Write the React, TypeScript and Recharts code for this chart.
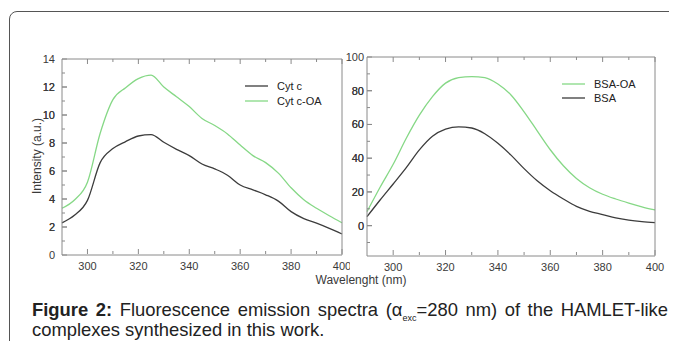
import React from 'react';
import { LineChart, Line, XAxis, YAxis, Legend } from 'recharts';

// wavelength grid (nm)
const wavelengths = [
  290, 295, 300, 305, 310, 315, 320, 325, 330, 335, 340, 345,
  350, 355, 360, 365, 370, 375, 380, 385, 390, 395, 400,
];

// left panel
const cytC = [
  2.3, 2.85, 3.9, 6.6, 7.6, 8.1, 8.5, 8.6, 8.05, 7.55, 7.1, 6.5,
  6.15, 5.7, 5.0, 4.65, 4.3, 3.85, 3.1, 2.6, 2.27, 1.9, 1.5,
];
const cytCOA = [
  3.34, 3.95, 5.2, 8.7, 11.1, 11.95, 12.6, 12.85, 12.0, 11.3, 10.6, 9.75,
  9.25, 8.65, 7.85, 7.1, 6.6, 5.85, 4.8, 3.95, 3.34, 2.8, 2.3,
];

// right panel
const bsaOA = [
  8.3, 22.8, 36.4, 51.8, 65.5, 76.5, 84.5, 87.8, 88.4, 87.8, 84.0, 77.5,
  67.5, 56.2, 45.0, 35.5, 28.0, 22.5, 18.6, 15.8, 13.4, 11.2, 9.3,
];
const bsa = [
  5.3, 15.2, 24.7, 34.4, 44.9, 53.0, 57.3, 58.6, 57.9, 54.5, 48.8, 41.8,
  33.8, 26.6, 20.7, 15.8, 11.4, 8.5, 6.6, 4.6, 3.3, 2.4, 1.8,
];

const xTicks = [300, 310, 320, 330, 340, 350, 360, 370, 380, 390, 400];
const xLabels = [300, 320, 340, 360, 380, 400];
const leftYTicks = [1, 2, 3, 4, 5, 6, 7, 8, 9, 10, 11, 12, 13];
const leftYLabels = [0, 2, 4, 6, 8, 10, 12, 14];
const rightYTicks = [-10, 0, 10, 20, 30, 40, 50, 60, 70, 80, 90];
const rightYLabels = [0, 20, 40, 60, 80, 100];

const leftData = wavelengths.map((w, i) => ({ w, cytC: cytC[i], cytCOA: cytCOA[i] }));
const rightData = wavelengths.map((w, i) => ({ w, bsaOA: bsaOA[i], bsa: bsa[i] }));

const AXIS = '#8a8a8a';
const TEXT = '#3a3a3a';
const DARK = '#3c3c3c';
const GREEN = '#86d886';
const FONT = '"Liberation Sans", Arial, sans-serif';

// inward tick marks; labels only on major values
const makeTick = (side: string, labels: number[], gap = 7) => (props: any) => {
  const { x, y, payload } = props;
  const v = payload.value;
  const major = labels.includes(v);
  const len = major ? 5 : 3;
  const textProps = { fontSize: 11, fill: TEXT, fontFamily: FONT };
  if (side === 'bottom') {
    const b = y - 1; // axis is 1px tall
    return (
      <g>
        <line x1={x} y1={b} x2={x} y2={b - len} stroke={AXIS} />
        {major && (
          <text x={x} y={b + 16} textAnchor="middle" {...textProps}>{v}</text>
        )}
      </g>
    );
  }
  if (side === 'top') {
    return <line x1={x} y1={y} x2={x} y2={y + len} stroke={AXIS} />;
  }
  if (side === 'left') {
    return (
      <g>
        <line x1={x} y1={y} x2={x + len} y2={y} stroke={AXIS} />
        {major && (
          <text x={x - gap} y={y + 4} textAnchor="end" {...textProps}>{v}</text>
        )}
      </g>
    );
  }
  return <line x1={x} y1={y} x2={x - len} y2={y} stroke={AXIS} />;
};

const LegendBox = ({ items, rowH }: any) => (
  <div style={{ fontFamily: FONT, fontSize: 11, color: '#222' }}>
    {items.map((p: any) => (
      <div key={p.key} style={{ display: 'flex', alignItems: 'center', height: rowH }}>
        <svg width={23} height={4} style={{ marginRight: 9 }}>
          <line x1={0} y1={2} x2={23} y2={2} stroke={p.color} strokeWidth={1.3} />
        </svg>
        <span>{p.name}</span>
      </div>
    ))}
  </div>
);

const Panel = ({ data, series, yDomain, yTicks, yLabels, margin, width, height, labelGap, legendPos, rowH }: any) => {
  const yAll = [...yTicks, ...yLabels].sort((a: number, b: number) => a - b);
  return (
    <LineChart width={width} height={height} data={data} margin={margin}>
      <XAxis
        dataKey="w"
        type="number"
        domain={[290, 400]}
        ticks={xTicks}
        interval={0}
        height={1}
        tickSize={0}
        tickMargin={0}
        stroke={AXIS}
        tick={makeTick('bottom', xLabels)}
        tickLine={false}
      />
      <XAxis
        xAxisId="top"
        orientation="top"
        dataKey="w"
        type="number"
        domain={[290, 400]}
        ticks={xTicks}
        interval={0}
        height={1}
        tickSize={0}
        tickMargin={0}
        stroke={AXIS}
        tick={makeTick('top', xLabels)}
        tickLine={false}
      />
      <YAxis
        type="number"
        domain={yDomain}
        ticks={yAll}
        interval={0}
        width={1}
        tickSize={0}
        tickMargin={0}
        stroke={AXIS}
        tick={makeTick('left', yLabels, labelGap)}
        tickLine={false}
      />
      <YAxis
        yAxisId="right"
        orientation="right"
        type="number"
        domain={yDomain}
        ticks={yAll}
        interval={0}
        width={1}
        tickSize={0}
        tickMargin={0}
        stroke={AXIS}
        tick={makeTick('right', yLabels)}
        tickLine={false}
      />
      <Legend
        layout="horizontal"
        verticalAlign="middle"
        content={() => <LegendBox items={series} rowH={rowH} />}
        wrapperStyle={{ position: 'absolute', left: legendPos[0], top: legendPos[1], width: 'auto' }}
      />
      {series.map((s: any) => (
        <Line
          key={s.key}
          dataKey={s.key}
          name={s.name}
          stroke={s.color}
          strokeWidth={1.3}
          type="monotone"
          dot={false}
          activeDot={false}
          isAnimationActive={false}
        />
      ))}
    </LineChart>
  );
};

export default function App() {
  return (
    <div style={{ position: 'relative', width: 677, height: 349, margin: -8, overflow: 'hidden', background: '#fff' }}>
      <div
        style={{
          position: 'absolute', left: 9, top: 11, width: 720, height: 400,
          border: '1px solid #555', borderRadius: 8, boxSizing: 'border-box',
        }}
      />
      <div style={{ position: 'absolute', left: 0, top: 0 }}>
        <Panel
          data={leftData}
          width={350}
          height={300}
          margin={{ top: 58, left: 61, right: 7, bottom: 44 }}
          yDomain={[0, 14]}
          yTicks={leftYTicks}
          yLabels={leftYLabels}
          labelGap={7}
          legendPos={[245, 78]}
          rowH={15}
          series={[
            { key: 'cytC', name: 'Cyt c', color: DARK },
            { key: 'cytCOA', name: 'Cyt c-OA', color: GREEN },
          ]}
        />
      </div>
      <div style={{ position: 'absolute', left: 340, top: 0 }}>
        <Panel
          data={rightData}
          width={337}
          height={300}
          margin={{ top: 56, left: 26, right: 21, bottom: 43 }}
          yDomain={[-18, 100]}
          yTicks={rightYTicks}
          yLabels={rightYLabels}
          labelGap={3}
          legendPos={[222, 77]}
          rowH={14}
          series={[
            { key: 'bsaOA', name: 'BSA-OA', color: GREEN },
            { key: 'bsa', name: 'BSA', color: DARK },
          ]}
        />
      </div>
      <svg width={677} height={300} style={{ position: 'absolute', left: 0, top: 0, pointerEvents: 'none' }}>
        <text
          x={38}
          y={156}
          transform="rotate(-90 38 156)"
          textAnchor="middle"
          dominantBaseline="middle"
          fontSize={12}
          fill={TEXT}
          fontFamily={FONT}
        >
          Intensity (a.u.)
        </text>
        <text x={361} y={284} textAnchor="middle" fontSize={12} fill={TEXT} fontFamily={FONT}>
          Wavelenght (nm)
        </text>
      </svg>
      <div
        style={{
          position: 'absolute', left: 32, top: 300, width: 636,
          fontFamily: FONT, fontSize: 18.4, lineHeight: '20px', color: '#222',
        }}
      >
        <div style={{ textAlign: 'justify', textAlignLast: 'justify', whiteSpace: 'nowrap' }}>
          <b>Figure 2:</b> Fluorescence emission spectra (α<sub style={{ fontSize: 9, lineHeight: 0 }}>exc</sub>=280 nm) of the HAMLET-like
        </div>
        <div>complexes synthesized in this work.</div>
      </div>
    </div>
  );
}
